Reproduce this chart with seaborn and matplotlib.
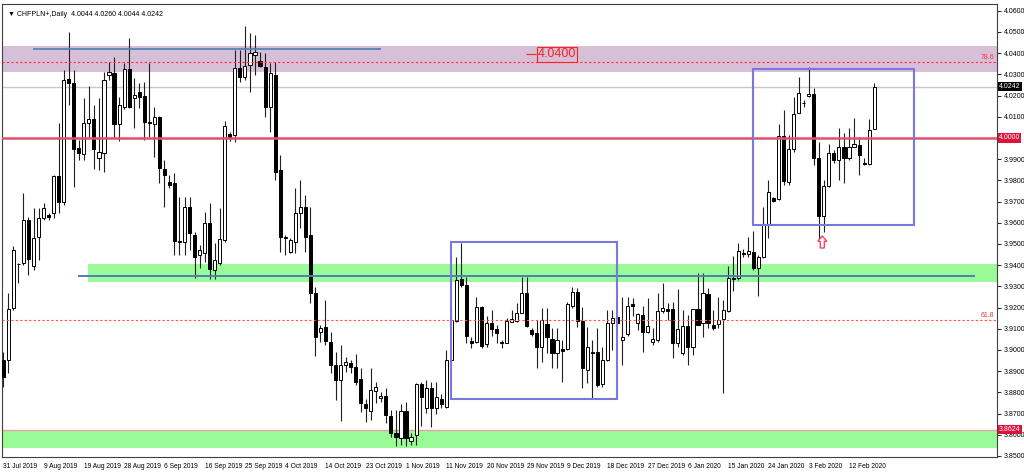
import matplotlib
matplotlib.use('Agg')
import numpy as np
import pandas as pd
import seaborn as sns
import matplotlib.pyplot as plt
from matplotlib.patches import Rectangle, Polygon
from matplotlib.transforms import blended_transform_factory

sns.set_theme(style='white')
plt.rcParams['font.family'] = ['Liberation Sans', 'DejaVu Sans']

# daily bars, MT4 style (Sunday bars included, Saturdays absent)
opens = [
    3.8953, 3.8953, 3.9198, 3.9406, 3.9410, 3.9613, 3.9396, 3.9533, 3.9623, 3.9637,
    3.9646, 3.9821, 3.9698, 4.0278, 4.0259, 3.9953, 3.9924, 4.0071, 4.0090, 3.9906,
    3.9929, 4.0297, 4.0307, 4.0066, 4.0146, 4.0325, 4.0189, 4.0217, 4.0198, 4.0076,
    4.0066, 4.0099, 3.9854, 3.9793, 3.9788, 3.9514, 3.9509, 3.9675, 3.9542, 3.9448,
    3.9458, 3.9599, 3.9377, 3.9410, 3.9519, 4.0019, 4.0014, 4.0330, 4.0288, 4.0344,
    4.0392, 4.0363, 4.0335, 4.0146, 4.0297, 3.9849, 3.9533, 3.9462, 3.9509, 3.9646,
    3.9675, 3.9542, 3.9269, 3.9085, 3.9109, 3.9038, 3.8929, 3.8859, 3.8929, 3.8939,
    3.8920, 3.8863, 3.8745, 3.8712, 3.8807, 3.8774, 3.8783, 3.8689, 3.8609, 3.8585,
    3.8712, 3.8571, 3.8599, 3.8840, 3.8726, 3.8821, 3.8726, 3.8769, 3.8731, 3.8953,
    3.9137, 3.9335, 3.9307, 3.9042, 3.9038, 3.9203, 3.9028, 3.9127, 3.9099, 3.9038,
    3.9033, 3.9132, 3.9137, 3.9175, 3.9269, 3.9095, 3.9080, 3.9014, 3.9123, 3.9052,
    3.8986, 3.9005, 3.9005, 3.9208, 3.9274, 3.9137, 3.8906, 3.8991, 3.8991, 3.8840,
    3.8953, 3.9127, 3.9156, 3.9047, 3.9076, 3.9217, 3.9127, 3.9165, 3.9085, 3.9038,
    3.9047, 3.9184, 3.9193, 3.9193, 3.9033, 3.8986, 3.9113, 3.9014, 3.9193, 3.9127,
    3.9264, 3.9118, 3.9123, 3.9146, 3.9184, 3.9340, 3.9340, 3.9458, 3.9453, 3.9462,
    3.9387, 3.9439, 3.9590, 3.9717, 3.9712, 4.0009, 3.9793, 3.9948, 4.0118, 4.0165,
    4.0198, 4.0208, 3.9906, 3.9632, 3.9774, 3.9929, 3.9896, 3.9958, 3.9906, 3.9958,
    3.9967, 3.9882, 3.9877, 4.0044]
highs = [
    3.8991, 3.9269, 3.9491, 3.9410, 3.9741, 3.9627, 3.9670, 3.9670, 3.9693, 3.9646,
    3.9826, 4.0071, 4.0321, 4.0500, 4.0321, 3.9991, 4.0189, 4.0245, 4.0156, 4.0189,
    4.0311, 4.0359, 4.0382, 4.0193, 4.0354, 4.0472, 4.0283, 4.0259, 4.0264, 4.0354,
    4.0146, 4.0104, 3.9896, 3.9826, 3.9835, 3.9722, 3.9722, 3.9722, 3.9557, 3.9495,
    3.9651, 3.9693, 3.9505, 3.9670, 4.0080, 4.0028, 4.0415, 4.0415, 4.0528, 4.0495,
    4.0486, 4.0406, 4.0401, 4.0354, 4.0359, 3.9920, 3.9542, 3.9528, 3.9764, 3.9802,
    3.9731, 3.9675, 3.9297, 3.9118, 3.9236, 3.9085, 3.8991, 3.9024, 3.8967, 3.8953,
    3.8981, 3.8915, 3.8769, 3.8915, 3.8849, 3.8802, 3.8821, 3.8717, 3.8717, 3.8745,
    3.8755, 3.8609, 3.8844, 3.8849, 3.8859, 3.8849, 3.8849, 3.8793, 3.9000, 3.9189,
    3.9439, 3.9505, 3.9344, 3.9061, 3.9250, 3.9208, 3.9160, 3.9189, 3.9118, 3.9047,
    3.9151, 3.9189, 3.9222, 3.9344, 3.9344, 3.9104, 3.9142, 3.9198, 3.9198, 3.9104,
    3.9104, 3.9047, 3.9226, 3.9297, 3.9293, 3.9203, 3.9109, 3.9047, 3.9104, 3.9014,
    3.9189, 3.9189, 3.9160, 3.9250, 3.9250, 3.9245, 3.9175, 3.9208, 3.9245, 3.9104,
    3.9269, 3.9316, 3.9222, 3.9226, 3.9288, 3.9189, 3.9165, 3.9193, 3.9363, 3.9363,
    3.9293, 3.9189, 3.9250, 3.9236, 3.9396, 3.9443, 3.9505, 3.9476, 3.9533, 3.9561,
    3.9448, 3.9675, 3.9802, 3.9722, 4.0066, 4.0132, 4.0014, 4.0193, 4.0288, 4.0179,
    4.0335, 4.0236, 3.9981, 3.9802, 3.9972, 3.9943, 4.0047, 4.0024, 4.0047, 4.0094,
    4.0005, 3.9906, 4.0090, 4.0260]
lows = [
    3.8826, 3.8892, 3.9189, 3.9316, 3.9401, 3.9354, 3.9377, 3.9425, 3.9613, 3.9613,
    3.9623, 3.9646, 3.9684, 4.0156, 3.9769, 3.9896, 3.9896, 4.0005, 3.9854, 3.9849,
    3.9840, 4.0274, 4.0000, 3.9986, 4.0137, 4.0142, 4.0047, 4.0142, 3.9991, 4.0005,
    3.9910, 3.9788, 3.9675, 3.9764, 3.9448, 3.9448, 3.9448, 3.9472, 3.9340, 3.9387,
    3.9415, 3.9335, 3.9335, 3.9401, 3.9510, 3.9986, 3.9981, 4.0264, 4.0274, 4.0217,
    4.0297, 4.0335, 4.0099, 4.0028, 3.9802, 3.9462, 3.9448, 3.9458, 3.9458, 3.9575,
    3.9462, 3.9222, 3.8972, 3.9038, 3.9024, 3.8892, 3.8764, 3.8665, 3.8896, 3.8892,
    3.8835, 3.8708, 3.8660, 3.8670, 3.8750, 3.8755, 3.8656, 3.8590, 3.8547, 3.8552,
    3.8547, 3.8552, 3.8552, 3.8642, 3.8703, 3.8637, 3.8698, 3.8726, 3.8726, 3.8943,
    3.9132, 3.9297, 3.9033, 3.9010, 3.9033, 3.9010, 3.9014, 3.9066, 3.9033, 3.9010,
    3.9031, 3.9130, 3.9130, 3.9173, 3.9108, 3.9066, 3.8915, 3.8943, 3.8986, 3.8915,
    3.8915, 3.8849, 3.9000, 3.9198, 3.9108, 3.8821, 3.8844, 3.8774, 3.8826, 3.8826,
    3.8948, 3.9000, 3.9118, 3.8929, 3.9066, 3.9160, 3.9094, 3.8991, 3.9080, 3.9024,
    3.9038, 3.9175, 3.9142, 3.8962, 3.9014, 3.8976, 3.8929, 3.8976, 3.9118, 3.9061,
    3.9104, 3.9094, 3.9104, 3.8797, 3.9179, 3.9278, 3.9330, 3.9439, 3.9439, 3.9377,
    3.9255, 3.9434, 3.9528, 3.9698, 3.9708, 3.9778, 3.9778, 3.9934, 4.0116, 4.0146,
    4.0193, 3.9873, 3.9519, 3.9557, 3.9769, 3.9882, 3.9802, 3.9788, 3.9896, 3.9956,
    3.9826, 3.9873, 3.9873, 4.0044]
closes = [
    3.8873, 3.9193, 3.9472, 3.9404, 3.9613, 3.9429, 3.9528, 3.9623, 3.9670, 3.9627,
    3.9821, 3.9698, 4.0274, 4.0259, 3.9948, 3.9929, 4.0071, 4.0090, 3.9948, 3.9934,
    4.0274, 4.0311, 4.0066, 4.0156, 4.0325, 4.0146, 4.0203, 4.0193, 4.0076, 4.0071,
    4.0099, 3.9859, 3.9826, 3.9778, 3.9514, 3.9509, 3.9675, 3.9552, 3.9439, 3.9472,
    3.9599, 3.9382, 3.9425, 3.9524, 4.0057, 4.0005, 4.0330, 4.0288, 4.0340, 4.0401,
    4.0406, 4.0340, 4.0146, 4.0307, 3.9840, 3.9533, 3.9528, 3.9519, 3.9646, 3.9675,
    3.9533, 3.9269, 3.9061, 3.9104, 3.9043, 3.8929, 3.8859, 3.8929, 3.8943, 3.8920,
    3.8849, 3.8750, 3.8726, 3.8811, 3.8826, 3.8783, 3.8693, 3.8609, 3.8590, 3.8712,
    3.8585, 3.8590, 3.8840, 3.8778, 3.8821, 3.8726, 3.8778, 3.8745, 3.8953, 3.9142,
    3.9330, 3.9307, 3.9066, 3.9033, 3.9203, 3.9019, 3.9127, 3.9099, 3.9080, 3.9033,
    3.9137, 3.9146, 3.9175, 3.9269, 3.9113, 3.9076, 3.9014, 3.9142, 3.9061, 3.8986,
    3.9047, 3.8995, 3.9217, 3.9274, 3.9137, 3.8915, 3.9014, 3.8986, 3.8835, 3.8953,
    3.9127, 3.9151, 3.9127, 3.9061, 3.9208, 3.9208, 3.9170, 3.9085, 3.9113, 3.9052,
    3.9184, 3.9198, 3.9184, 3.9033, 3.9099, 3.9113, 3.9014, 3.9193, 3.9118, 3.9269,
    3.9127, 3.9104, 3.9142, 3.9189, 3.9340, 3.9335, 3.9467, 3.9453, 3.9467, 3.9387,
    3.9439, 3.9590, 3.9745, 3.9703, 4.0009, 3.9797, 3.9948, 4.0113, 4.0212, 4.0163,
    4.0208, 3.9906, 3.9632, 3.9774, 3.9929, 3.9896, 3.9958, 3.9906, 3.9958, 3.9972,
    3.9920, 3.9877, 4.0038, 4.0242]

# drawn objects (price levels / zones / boxes)
purple_zone = (4.0311, 4.0434)
fib786 = 4.0359
fib618 = 3.9142
top_line = (5.9, 75.0, 4.0418)
level_4 = 4.0000
last_price = 4.0242
green_high = (16.8, 3.9321, 3.9406)
green_line = (14.8, 193.1, 3.9349)
green_low = (3.8538, 3.8624)
box_nov = (89.0, 121.9, 3.8769, 3.9509)
box_feb = (149.0, 180.9, 3.9590, 4.0326)
arrow_at = (162.7, 3.9481, 3.9538)

dates = pd.bdate_range('2019-07-31', periods=len(opens), freq='C',
                       weekmask='Sun Mon Tue Wed Thu Fri')
df = pd.DataFrame({'open': opens, 'high': highs, 'low': lows, 'close': closes}, index=dates)
df['i'] = np.arange(len(df))

fig = plt.figure(figsize=(10.24, 4.73), dpi=100, facecolor='white')
ax = fig.add_axes([2/1024, 16/473, 995/1024, 453/473])
ax.set_facecolor('white')
X0, X1 = -0.26, 197.4
ax.set_xlim(X0, X1)
ax.set_ylim(3.8495, 4.0632)

# zones (background)
ax.axhspan(*purple_zone, color='#d8bfd8', zorder=0, lw=0)
ax.add_patch(Rectangle((green_high[0], green_high[1]), X1 - green_high[0], green_high[2] - green_high[1],
                       color='#98fb98', zorder=0, lw=0))
ax.axhspan(*green_low, color='#98fb98', zorder=0, lw=0)
ax.axhline(green_low[1], color='#e8a0a0', lw=1, zorder=1)
ax.axhline(last_price, color='#c8c8c8', lw=1, zorder=1)

# candles
up = df['close'] >= df['open']
ax.vlines(df['i'], df['low'], df['high'], color='#202020', lw=0.8, zorder=2)
body = (df['close'] - df['open']).abs().clip(lower=0.0003)
bottom = df[['open', 'close']].min(axis=1)
ax.bar(df['i'][up], body[up], bottom=bottom[up], width=0.62, color='white',
       edgecolor='black', lw=0.7, zorder=3)
ax.bar(df['i'][~up], body[~up], bottom=bottom[~up], width=0.62, color='black',
       edgecolor='black', lw=0.7, zorder=3)

# foreground objects
ax.axhline(fib786, color='#ff3030', lw=0.8, ls=(0, (2, 2)), zorder=4)
ax.axhline(fib618, color='#ff5050', lw=0.8, ls=(0, (2, 2)), zorder=4)
ax.hlines(top_line[2], top_line[0], top_line[1], color='#4a7fb5', lw=1.2, zorder=4)
ax.hlines(green_line[2], green_line[0], green_line[1], color='#4a7fb5', lw=1.4, zorder=4)
ax.axhline(level_4, color='#e0506c', lw=1.8, zorder=4)
for x0, x1, y0, y1 in [box_nov, box_feb]:
    ax.add_patch(Rectangle((x0, y0), x1 - x0, y1 - y0, fill=False,
                           edgecolor='#7b78dc', lw=1.5, zorder=5))
ax0, ay0, ay1 = arrow_at
ax.add_patch(Polygon([(ax0 - 0.9, ay1 - 0.0026), (ax0, ay1), (ax0 + 0.9, ay1 - 0.0026),
                      (ax0 + 0.4, ay1 - 0.0026), (ax0 + 0.4, ay0), (ax0 - 0.4, ay0),
                      (ax0 - 0.4, ay1 - 0.0026)],
                     closed=True, facecolor='white', edgecolor='#ff4060', lw=1, zorder=6))

ax.text(110.0, 4.0394, '4.0400', color='#ff2020', fontsize=9, ha='center', va='center', zorder=6,
        bbox=dict(boxstyle='square,pad=0.1', fc='none', ec='#ff2020', lw=0.8))
ax.hlines(4.0394, 103.8, 105.9, color='#ff2020', lw=0.8, zorder=6)
ax.text(X1 - 0.6, fib786 + 0.0003, '78.6', color='#ff3030', fontsize=5, ha='right', va='bottom')
ax.text(X1 - 0.6, fib618 + 0.0003, '61.8', color='#ff3030', fontsize=5, ha='right', va='bottom')

ax.text(0.006, 0.985, '\u25bc CHFPLN+,Daily  4.0044 4.0260 4.0044 4.0242', transform=ax.transAxes,
        fontsize=5, va='top', ha='left', color='black')

# axes
ax.yaxis.tick_right()
yt = np.round(np.arange(3.85, 4.0601, 0.01), 2)
ax.set_yticks(yt)
# the 4.0000 tick label is hidden behind its price tag in the reference
ax.set_yticklabels(['' if abs(v - level_4) < 1e-9 else f'{v:.4f}' for v in yt])
ax.tick_params(axis='y', direction='out', length=3, width=0.6, labelsize=5, pad=2, colors='black')
ticks = df['i'].iloc[::8]
ax.set_xticks(ticks)
ax.set_xticklabels([f'{d.day} {d:%b %Y}' for d in df.index[::8]], ha='left')
ax.tick_params(axis='x', direction='out', length=3, width=0.6, labelsize=4.8, pad=1, colors='black')
ax.grid(False)
for s in ax.spines.values():
    s.set_color('#404040')
    s.set_linewidth(0.8)

trans = blended_transform_factory(ax.transAxes, ax.transData)
for val, fc in [(last_price, 'black'), (level_4, '#dc143c'), (green_low[1], '#dc143c')]:
    ax.text(1.002, val, f'{val:.4f}', transform=trans, fontsize=5, color='white', ha='left',
            va='center', bbox=dict(boxstyle='square,pad=0.15', fc=fc, ec='none'), zorder=7,
            clip_on=False)

fig.savefig('out.png', dpi=100, facecolor='white')
